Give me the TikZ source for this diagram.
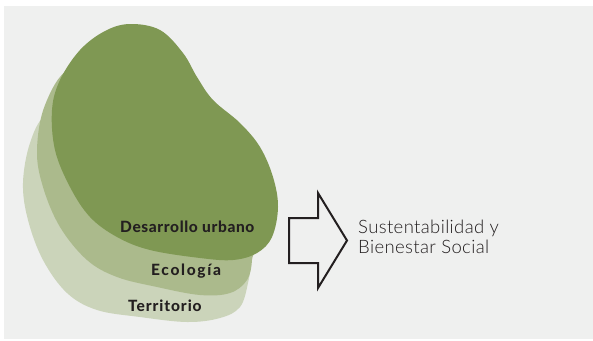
\documentclass[tikz,border=0pt]{standalone}
\usepackage{fontspec}
\setmainfont{Lato}
\newfontfamily\gruesa{Lato Heavy}
\newfontfamily\fina{Lato Light}
\usetikzlibrary{positioning,calc}
\definecolor{panel}{HTML}{EFF0EF}
\definecolor{urbano}{HTML}{7F9853}
\definecolor{ecologia}{HTML}{ABBA8C}
\definecolor{territorio}{HTML}{CBD4BA}
\definecolor{ink}{HTML}{231F20}

\begin{document}
\begin{tikzpicture}[x=1pt,y=-1pt,
		capa/.style={inner sep=0pt,anchor=base west,text=ink,font=\gruesa\fontsize{15.5}{18}\selectfont},
		meta/.style={inner sep=0pt,anchor=base west,text=ink,align=left,font=\fina\fontsize{18.5}{20}\selectfont\addfontfeature{LetterSpace=2}}]
		\useasboundingbox (0,0) rectangle (593,340);
		\fill[panel] (4,6) rectangle (593,339);
		%
		\fill[territorio] plot[smooth cycle,tension=0.6] coordinates {(80,98) (46,114) (30,143) (23,183) (28,220) (43,260) (67,293) (97,310) (140,317) (187,322) (220,318) (240,307) (248,283) (250,263) (246,230) (200,150) (130,90)};
		\fill[ecologia] plot[smooth cycle,tension=0.6] coordinates {(70,68) (45,105) (37,150) (43,187) (60,227) (87,260) (117,277) (157,287) (200,295) (230,293) (247,280) (252,260) (251,232) (200,150) (120,60)};
		\fill[urbano] plot[smooth cycle,tension=0.6] coordinates {(130,24) (160,30) (183,53) (197,77) (213,100) (240,123) (260,147) (273,177) (278,207) (272,237) (257,253) (233,260) (200,258) (150,250) (117,237) (90,217) (70,187) (55,150) (52,110) (60,80) (80,50) (105,31)};
		%
		\node[capa] (du) at (120,232) {\addfontfeature{LetterSpace=4}Desarrollo urbano};
		\node[capa] (eco) at (151,275) {\addfontfeature{LetterSpace=11}Ecología};
		\node[capa] (terr) at (128,311) {\addfontfeature{LetterSpace=6}Territorio};
		%
		\coordinate (cola) at (289,240.5);
		\coordinate (punta) at (347,240.5);
		\draw[ink,line width=2pt,line join=miter,fill=panel]
			($(cola)+(0,-22.5)$) -- ++(29,0) -- ++(0,-25) -- (punta) -- ($(cola)+(29,47.5)$) -- ++(0,-25) -- ($(cola)+(0,22.5)$) -- cycle;
		\node[meta] (sb) at (358,253) {Sustentabilidad y\\Bienestar Social};
\end{tikzpicture}
\end{document}
